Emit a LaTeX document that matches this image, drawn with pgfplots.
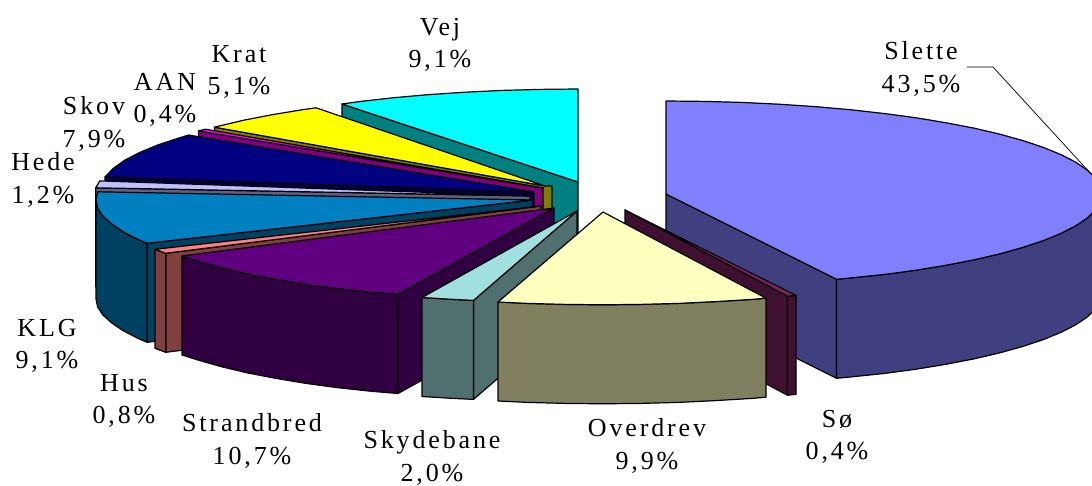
\documentclass[border=0pt]{standalone}
\usepackage{fontspec}
\setmainfont[LetterSpace=11]{Liberation Serif}
\usepackage{pgfplots}
\pgfplotsset{compat=1.18}
\definecolor{slF}{HTML}{8080FF}\definecolor{slW}{HTML}{404080}
\definecolor{soF}{HTML}{802060}\definecolor{soW}{HTML}{401030}
\definecolor{ovF}{HTML}{FFFFC0}\definecolor{ovW}{HTML}{808060}
\definecolor{skF}{HTML}{A0E0E0}\definecolor{skW}{HTML}{507070}
\definecolor{stF}{HTML}{600080}\definecolor{stW}{HTML}{300040}
\definecolor{huF}{HTML}{FF8080}\definecolor{huW}{HTML}{804040}
\definecolor{klF}{HTML}{0080C0}\definecolor{klW}{HTML}{004060}
\definecolor{heF}{HTML}{C0C0FF}\definecolor{heW}{HTML}{606080}
\definecolor{kvF}{HTML}{000080}\definecolor{kvW}{HTML}{000040}
\definecolor{aaF}{HTML}{FF00FF}\definecolor{aaW}{HTML}{800080}
\definecolor{krF}{HTML}{FFFF00}\definecolor{krW}{HTML}{808000}
\definecolor{veF}{HTML}{00FFFF}\definecolor{veW}{HTML}{008080}
\pgfplotsset{slice/.style={draw=black,line width=1.2pt,line join=round,mark=none}}
\tikzset{lab/.style={align=center,anchor=center,inner sep=0pt,text=black,font=\fontsize{26}{32.5}\selectfont}}
\begin{document}
\begin{tikzpicture}
\useasboundingbox (0,0) rectangle (1092pt,486pt);
\begin{axis}[at={(0,0)},anchor=south west,scale only axis,width=1092pt,height=486pt,
  xmin=0,xmax=1092,ymin=0,ymax=486,y dir=reverse,hide axis,clip mode=individual]
% Vej
\addplot[slice,fill=veW] coordinates {(342,104)(578,182)(578,281)(342,203)} -- cycle;
\addplot[slice,fill=veF] coordinates {(578,182)(342,104)(360,101.5)(393.7,97.7)(428.9,94.6)(465.2,92.2)(502.3,90.4)(540,89.4)(578,89)} -- cycle;
% Krat
\addplot[slice,fill=krW] coordinates {(214.4,127.2)(545,186)(552,186)(552,285)(214.4,226.2)} -- cycle;
\addplot[slice,fill=krF] coordinates {(545,186)(214.4,127.2)(243.7,120.2)(271.7,114.8)(301.9,109.8)(316,107.8)} -- cycle;
% AAN
\addplot[slice,fill=aaW] coordinates {(198.5,131)(543,188)(543,287)(198.5,230)} -- cycle;
\addplot[slice,fill=aaF] coordinates {(543,188)(198.5,131)(205.4,129.2)} -- cycle;
% Skov
\addplot[slice,fill=kvW] coordinates {(105,176.9)(534,192)(534,291)(105,275.9)} -- cycle;
\addplot[slice,fill=kvF] coordinates {(534,192)(105,176.9)(113.9,167.9)(124.8,160.2)(139.2,152.7)(156.4,145.5)(176.8,138.7)(188.5,135)} -- cycle;
% Hede
\addplot[slice,fill=heW] coordinates {(95.7,187.8)(530,196)(530,295)(95.7,286.8)} -- cycle;
\addplot[slice,fill=heF] coordinates {(530,196)(95.7,187.8)(99.8,180.9)} -- cycle;
% KLG
\addplot[slice,fill=klW] coordinates {(147,243.3)(533,200)(533,299)(147,342.3)} -- cycle;
\addplot[slice,fill=klW] coordinates {(96,200)(97.7,208.1)(103,216.1)(111.9,224.1)(123.3,231.8)(137.9,239.3)(147,243.3)(147,342.3)(137.9,338.3)(123.3,330.8)(111.9,323.1)(103,315.1)(97.7,307.1)(96,299)} -- cycle;
\addplot[slice,fill=klF] coordinates {(533,200)(147,243.3)(137.9,239.3)(123.3,231.8)(111.9,224.1)(103,216.1)(97.7,208.1)(96,200)(97.7,191.8)} -- cycle;
% Hus
\addplot[slice,fill=huW] coordinates {(165.7,253.3)(541,206)(541,305)(165.7,352.3)} -- cycle;
\addplot[slice,fill=huW] coordinates {(155,249.3)(165.7,253.3)(165.7,352.3)(155,348.3)} -- cycle;
\addplot[slice,fill=huF] coordinates {(541,206)(155,249.3)(165.7,253.3)} -- cycle;
% Strandbred
\addplot[slice,fill=stW] coordinates {(398,294.5)(554,208)(554,307)(398,393.5)} -- cycle;
\addplot[slice,fill=stW] coordinates {(182,256)(199.8,261.6)(222.6,268)(247.5,273.9)(274.9,279.2)(304.6,284.2)(336.3,288.5)(369.5,292.1)(398,294.5)(398,393.5)(369.5,391.1)(336.3,387.5)(304.6,383.2)(274.9,378.2)(247.5,372.9)(222.6,367)(199.8,360.6)(182,355)} -- cycle;
\addplot[slice,fill=stF] coordinates {(554,208)(398,294.5)(369.5,292.1)(336.3,288.5)(304.6,284.2)(274.9,279.2)(247.5,273.9)(222.6,268)(199.8,261.6)(182,256)} -- cycle;
% Skydebane
\addplot[slice,fill=skW] coordinates {(473.5,300.4)(577,211)(577,310)(473.5,399.4)} -- cycle;
\addplot[slice,fill=skW] coordinates {(422,297.5)(449.5,299.2)(473.5,300.4)(473.5,399.4)(449.5,398.2)(422,396.5)} -- cycle;
\addplot[slice,fill=skF] coordinates {(577,211)(473.5,300.4)(449.5,299.2)(422,297.5)} -- cycle;
% Slette
\addplot[slice,fill=slW] coordinates {(666,194)(836.5,279.3)(836.5,378.3)(666,293)} -- cycle;
\addplot[slice,fill=slW] coordinates {(1102,194)(1100.3,202.1)(1095.4,210.1)(1087.1,218.1)(1075.7,225.8)(1061.1,233.3)(1043.6,240.5)(1023.2,247.3)(1000,253.8)(974.3,259.8)(946.3,265.2)(916.1,270.2)(884,274.5)(850.3,278)(836.5,279.3)(836.5,378.3)(850.3,377)(884,373.5)(916.1,369.2)(946.3,364.2)(974.3,358.8)(1000,352.8)(1023.2,346.3)(1043.6,339.5)(1061.1,332.3)(1075.7,324.8)(1087.1,317.1)(1095.4,309.1)(1100.3,301.1)(1102,293)} -- cycle;
\addplot[slice,fill=slF] coordinates {(666,194)(666,101)(704,101.4)(741.7,102.4)(778.8,104.2)(815.1,106.6)(850.3,109.7)(884,113.5)(916.1,117.8)(946.3,122.8)(974.3,128.2)(1000,134.2)(1023.2,140.7)(1043.6,147.5)(1061.1,154.7)(1075.7,162.2)(1087.1,169.9)(1095.4,177.9)(1100.3,185.9)(1102,194)(1100.3,202.1)(1095.4,210.1)(1087.1,218.1)(1075.7,225.8)(1061.1,233.3)(1043.6,240.5)(1023.2,247.3)(1000,253.8)(974.3,259.8)(946.3,265.2)(916.1,270.2)(884,274.5)(850.3,278)(836.5,279.3)} -- cycle;
% So
\addplot[slice,fill=soW] coordinates {(787.5,296.2)(625,210)(625,309)(787.5,395.2)} -- cycle;
\addplot[slice,fill=soW] coordinates {(787.5,296.2)(796,295.4)(796,394.4)(787.5,395.2)} -- cycle;
\addplot[slice,fill=soF] coordinates {(625,210)(796,295.4)(787.5,296.2)} -- cycle;
% Overdrev
\addplot[slice,fill=ovW] coordinates {(498,302)(527.3,303.4)(565,304.4)(603,304.8)(641,304.4)(678.7,303.4)(715.8,301.6)(752.1,299.4)(766,298.2)(766,397.2)(752.1,398.4)(715.8,400.6)(678.7,402.4)(641,403.4)(603,403.8)(565,403.4)(527.3,402.4)(498,401)} -- cycle;
\addplot[slice,fill=ovF] coordinates {(603,212)(766,298.2)(752.1,299.4)(715.8,301.6)(678.7,303.4)(641,304.4)(603,304.8)(565,304.4)(527.3,303.4)(498,302)} -- cycle;
% leader
\addplot[draw=black,line width=0.7pt,mark=none] coordinates {(967,67)(993,67)(1092,175)};
% labels
\node[lab] at (axis cs:440,45) {Vej\\9,1\%};
\node[lab] at (axis cs:921,69) {Slette\\43,5\%};
\node[lab] at (axis cs:239,72) {Krat\\5,1\%};
\node[lab] at (axis cs:165,100) {AAN\\0,4\%};
\node[lab] at (axis cs:94,124) {Skov\\7,9\%};
\node[lab] at (axis cs:43,180) {Hede\\1,2\%};
\node[lab] at (axis cs:47,346) {KLG\\9,1\%};
\node[lab] at (axis cs:124,401) {Hus\\0,8\%};
\node[lab] at (axis cs:252,441) {Strandbred\\10,7\%};
\node[lab] at (axis cs:432,458) {Skydebane\\2,0\%};
\node[lab] at (axis cs:647,446) {Overdrev\\9,9\%};
\node[lab] at (axis cs:837,437) {Sø\\0,4\%};
\end{axis}
\end{tikzpicture}
\end{document}
